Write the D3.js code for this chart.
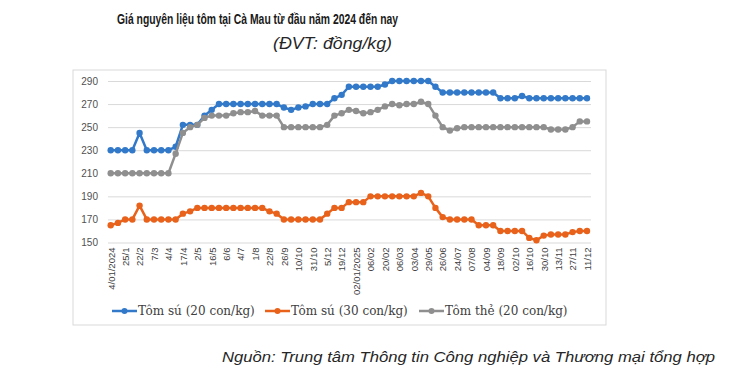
<!DOCTYPE html>
<html>
<head>
<meta charset="utf-8">
<script src="https://cdn.jsdelivr.net/npm/d3@7/dist/d3.min.js"></script>
<style>
  html, body { margin: 0; padding: 0; background: #fff; }
  svg { display: block; }
</style>
</head>
<body>
<svg id="chart" width="750" height="378"></svg>
<script>
// ---- Data ----
const tickLabels = ["4/01/2024","25/1","22/2","7/3","4/4","17/4","2/5","16/5","6/6","4/7","1/8","22/8","26/9","10/10","31/10","5/12","19/12","02/01/2025","06/02","20/02","06/03","03/04","29/05","26/06","24/07","07/08","04/09","18/09","02/10","16/10","30/10","13/11","27/11","11/12"];

const seriesNames = ["Tôm sú (20 con/kg)", "Tôm sú (30 con/kg)", "Tôm thẻ (20 con/kg)"];

const tomSu20 = [230,230,230,230,245,230,230,230,230,233,252,252,252,260,265,270,270,270,270,270,270,270,270,270,267,265,267,268,270,270,270,275,278,285,285,285,285,285,287,290,290,290,290,290,290,285,280,280,280,280,280,280,280,280,275,275,275,277,275,275,275,275,275,275,275,275,275];

const tomSu30 = [165,167,170,170,182,170,170,170,170,170,175,177,180,180,180,180,180,180,180,180,180,180,177,175,170,170,170,170,170,170,175,180,180,185,185,185,190,190,190,190,190,190,190,193,190,180,172,170,170,170,170,165,165,165,160,160,160,160,154,152,156,157,157,157,159,160,160];

const tomThe20 = [210,210,210,210,210,210,210,210,210,227,245,250,252,258,260,260,260,262,263,263,264,260,260,260,250,250,250,250,250,250,252,260,262,265,264,262,263,265,268,270,269,270,270,272,270,260,250,247,249,250,250,250,250,250,250,250,250,250,250,250,250,248,248,248,250,255,255];

const yTicks = [150,170,190,210,230,250,270,290];
const colors = ["#3279C9", "#E9621B", "#8F8F8F"];

// ---- Chart ----
const svg = d3.select("#chart");
const n = tomSu20.length;
const idx = d3.range(n);

const x = d3.scalePoint().domain(idx).range([110.7, 587]);
const y = d3.scaleLinear().domain([150, 290]).range([242.5, 81]);

// Titles
svg.append("text")
  .attr("x", 117).attr("y", 23.5)
  .attr("font-family", "Liberation Sans, Arial, sans-serif")
  .attr("font-weight", "bold").attr("font-size", 15.5)
  .attr("fill", "#1a1a1a")
  .attr("textLength", 281).attr("lengthAdjust", "spacingAndGlyphs")
  .text("Giá nguyên liệu tôm tại Cà Mau từ đầu năm 2024 đến nay");

svg.append("text")
  .attr("x", 273).attr("y", 49)
  .attr("font-family", "Liberation Sans, Arial, sans-serif")
  .attr("font-style", "italic").attr("font-size", 16)
  .attr("fill", "#262626")
  .attr("textLength", 119).attr("lengthAdjust", "spacingAndGlyphs")
  .text("(ĐVT: đồng/kg)");

// Chart border
svg.append("rect")
  .attr("x", 73).attr("y", 70).attr("width", 533).attr("height", 255)
  .attr("fill", "none").attr("stroke", "#d9d9d9").attr("stroke-width", 1);

// Y axis gridlines + labels
const yAxis = d3.axisLeft(y).tickValues(yTicks).tickSize(-(591 - 108)).tickPadding(10);
const gy = svg.append("g").attr("transform", "translate(108,0)").call(yAxis);
gy.select(".domain").remove();
gy.selectAll(".tick line").attr("stroke", "#d9d9d9").attr("stroke-width", 1);
gy.selectAll(".tick text")
  .attr("font-family", "Liberation Sans, Arial, sans-serif")
  .attr("font-size", 10).attr("fill", "#505050");

// X axis labels
const labelIdx = idx.filter(i => i % 2 === 0);
const xAxis = d3.axisBottom(x).tickValues(labelIdx)
  .tickFormat(i => tickLabels[i / 2]).tickSize(0).tickPadding(0);
const gx = svg.append("g").attr("transform", "translate(0,242.5)").call(xAxis);
gx.select(".domain").remove();
gx.selectAll(".tick text")
  .attr("font-family", "Liberation Sans, Arial, sans-serif")
  .attr("font-size", 9.5).attr("fill", "#404040")
  .attr("transform", "rotate(-90)")
  .attr("text-anchor", "end")
  .attr("x", -5).attr("y", 0).attr("dy", "0.35em");

// Lines
const allSeries = [tomSu20, tomSu30, tomThe20];
const line = d3.line().x((d, i) => x(i)).y(d => y(d));
allSeries.forEach((s, k) => {
  const g = svg.append("g");
  g.append("path").datum(s)
    .attr("d", line).attr("fill", "none")
    .attr("stroke", colors[k]).attr("stroke-width", 2.5)
    .attr("stroke-linejoin", "round");
  g.selectAll("circle").data(s).join("circle")
    .attr("cx", (d, i) => x(i)).attr("cy", d => y(d))
    .attr("r", 3.2).attr("fill", colors[k]);
});

// Legend
const legendX = [112, 265, 419];
seriesNames.forEach((name, k) => {
  const g = svg.append("g").attr("transform", `translate(${legendX[k]},311)`);
  g.append("line").attr("x1", 0).attr("x2", 25).attr("y1", 0).attr("y2", 0)
    .attr("stroke", colors[k]).attr("stroke-width", 2.5);
  g.append("circle").attr("cx", 12.5).attr("cy", 0).attr("r", 3).attr("fill", colors[k]);
  g.append("text").attr("x", 26).attr("y", 4)
    .attr("font-family", "DejaVu Serif, Liberation Serif, serif")
    .attr("font-size", 12).attr("fill", "#404040")
    .text(name);
});

// Source
svg.append("text")
  .attr("x", 715).attr("y", 362)
  .attr("text-anchor", "end")
  .attr("font-family", "Liberation Sans, Arial, sans-serif")
  .attr("font-style", "italic").attr("font-size", 15.5)
  .attr("fill", "#262626")
  .attr("textLength", 493).attr("lengthAdjust", "spacingAndGlyphs")
  .text("Nguồn: Trung tâm Thông tin Công nghiệp và Thương mại tổng hợp");
</script>
</body>
</html>
